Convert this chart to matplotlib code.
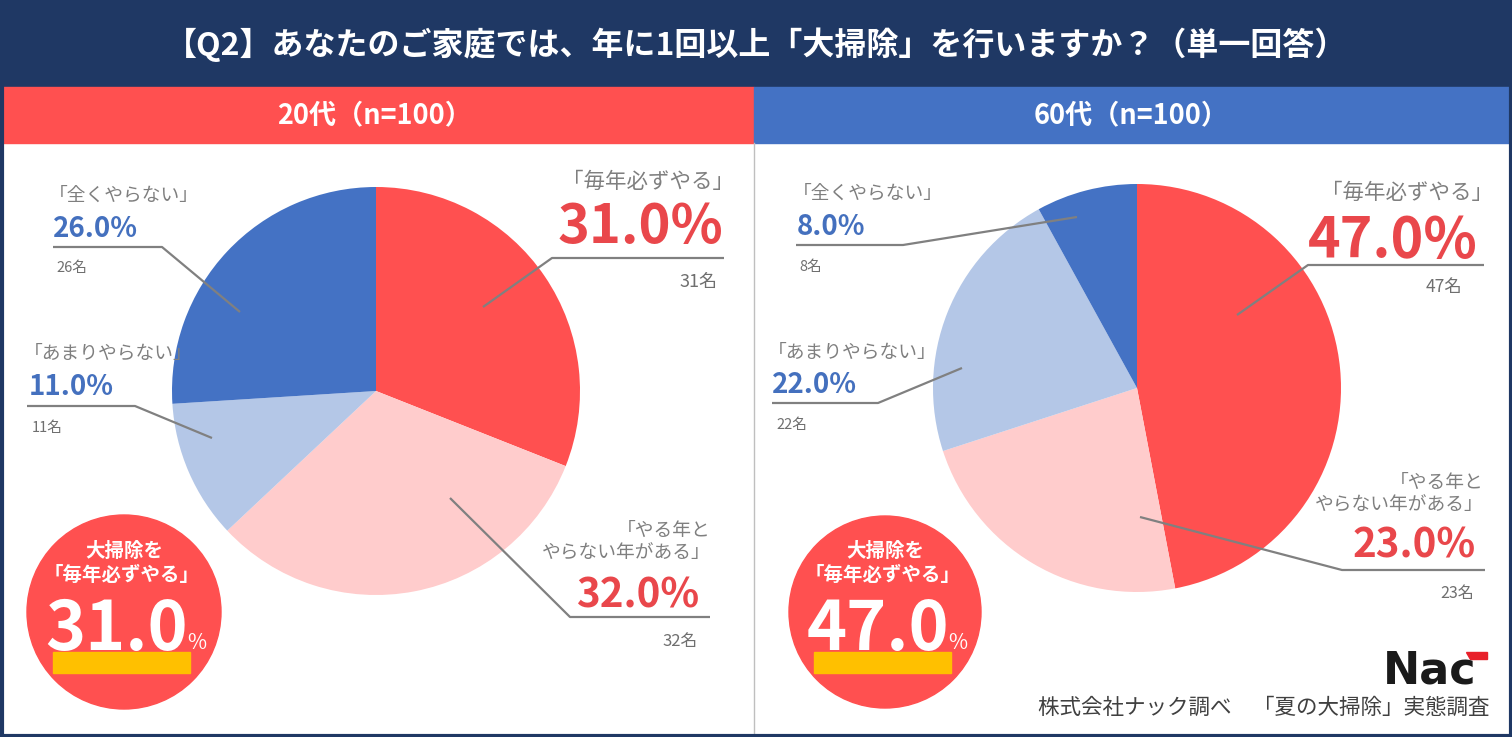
import matplotlib.pyplot as plt
from matplotlib.patches import Rectangle, Circle, Polygon

plt.rcParams['font.family'] = ['Noto Sans CJK JP', 'DejaVu Sans']

W, H = 1512, 737

# データ
title = '【Q2】あなたのご家庭では、年に1回以上「大掃除」を行いますか？（単一回答）'
groups = ['20代（n=100）', '60代（n=100）']
answers = ['「毎年必ずやる」', '「やる年と\nやらない年がある」', '「あまりやらない」', '「全くやらない」']
pct_20s = [31.0, 32.0, 11.0, 26.0]
pct_60s = [47.0, 23.0, 22.0, 8.0]
count_20s = [31, 32, 11, 26]
count_60s = [47, 23, 22, 8]
badge_lines = ['大掃除を', '「毎年必ずやる」']
footer = '株式会社ナック調べ　「夏の大掃除」実態調査'

slice_colors = ['#FF5050', '#FFCCCC', '#B4C7E7', '#4472C4']
navy = '#1F3864'
red_txt = '#E9474B'
blue_txt = '#4470BE'
grey_txt = '#7F7F7F'
line_col = '#808080'

fig = plt.figure(figsize=(W / 100, H / 100), dpi=100)
ax = fig.add_axes([0, 0, 1, 1])

# 背景・ヘッダー
ax.add_patch(Rectangle((0, 0), W, 87, color=navy, zorder=0))
ax.add_patch(Rectangle((0, 87), 754, 56, color='#FF5050', zorder=0))
ax.add_patch(Rectangle((754, 87), W - 754, 56, color='#4472C4', zorder=0))
ax.plot([754, 754], [143, H], color='#BFBFBF', lw=1, zorder=1)
ax.text(W / 2, 45, title, color='white', fontsize=23, fontweight='bold', ha='center', va='center')
ax.text(375, 115, groups[0], color='white', fontsize=19.5, fontweight='bold', ha='center', va='center')
ax.text(1131, 115, groups[1], color='white', fontsize=19.5, fontweight='bold', ha='center', va='center')

# 円グラフごとのレイアウト
panels = [
    dict(pct=pct_20s, n=count_20s, cx=376, cy=391, r=204, badge=(124, 612, 97),
         labels=[
             # 見出しx, ha, 見出しy, 見出しサイズ, %x, %基線y, %サイズ, 人数x, 人数y, 人数サイズ, 引出線
             (734, 'right', 182, 15.5, 723, 243, 39, 718, 282, 13, [(483, 307), (552, 258), (724, 258)]),
             (711, 'right', 542, 13.5, 699, 607, 29, 698, 641, 12, [(450, 498), (570, 617), (710, 617)]),
             (24, 'left', 353, 13.5, 29, 395, 20, 32, 428, 10.5, [(212, 438), (135, 406), (27, 406)]),
             (49, 'left', 195, 13.5, 53, 237, 20, 56, 268, 10.5, [(240, 312), (162, 247), (53, 247)]),
         ]),
    dict(pct=pct_60s, n=count_60s, cx=1137, cy=388, r=204, badge=(885, 612, 96),
         labels=[
             (1493, 'right', 193, 15.5, 1478, 257, 40, 1462, 287, 12.5, [(1237, 315), (1308, 265), (1484, 265)]),
             (1484, 'right', 494, 13.5, 1476, 557, 29, 1474, 593, 11.5, [(1140, 517), (1342, 570), (1485, 570)]),
             (768, 'left', 352, 13.5, 772, 393, 20, 776, 425, 10.5, [(962, 368), (878, 403), (772, 403)]),
             (793, 'left', 193, 13.5, 797, 235, 20, 799, 267, 10.5, [(1077, 217), (903, 245), (796, 245)]),
         ]),
]

for p in panels:
    ax.pie(p['pct'], colors=slice_colors, startangle=270, counterclock=True,
           center=(p['cx'], p['cy']), radius=p['r'], frame=True,
           wedgeprops=dict(linewidth=0))
    for i, lab in enumerate(p['labels']):
        x, ha, hy, hs, px, py, ps, nx, ny, ns, pts = lab
        big = i < 2
        ax.text(x, hy, answers[i], color=grey_txt, fontsize=hs, ha=ha, va='center',
                multialignment='right' if ha == 'right' else 'left', linespacing=1.15)
        ax.text(px, py, f'{p["pct"][i]:.1f}%',
                color=red_txt if big else blue_txt, fontsize=ps, fontweight='bold',
                ha=ha, va='baseline')
        ax.text(nx, ny, f'{p["n"][i]}名', color='#6F6F6F', fontsize=ns, ha=ha, va='center')
        ax.plot([q[0] for q in pts], [q[1] for q in pts], color=line_col, lw=1.6,
                solid_capstyle='butt', zorder=3)

    # バッジ
    bx, by, br = p['badge']
    ax.add_patch(Circle((bx, by), br, color='#FF5050', zorder=4))
    ax.text(bx, by - 61, badge_lines[0], color='white', fontsize=14, fontweight='bold',
            ha='center', va='center', zorder=5)
    ax.text(bx - 2, by - 37, badge_lines[1], color='white', fontsize=14, fontweight='bold',
            ha='center', va='center', zorder=5)
    ax.add_patch(Rectangle((bx - 71, by + 40), 137, 21, color='#FFC000', zorder=5))
    ax.text(bx - 7, by + 38, f'{p["pct"][0]:.1f}', color='white', fontsize=49,
            fontweight='bold', ha='center', va='baseline', zorder=6)
    ax.text(bx + 63, by + 37, '%', color='white', fontsize=15, ha='left',
            va='baseline', zorder=6)

# ロゴとクレジット
ax.text(1383, 684, 'Nac', color='#1A1A1A', fontsize=32, fontweight='bold',
        family='DejaVu Sans', ha='left', va='baseline')
ax.add_patch(Polygon([(1466, 652), (1487, 652), (1487, 659), (1470, 659)], color='#E8202A'))
ax.text(1490, 708, footer, color='#404040', fontsize=15.5, ha='right', va='center')

# 外枠
ax.add_patch(Rectangle((1.5, 1.5), W - 3, H - 3, fill=False, edgecolor=navy, lw=3, zorder=10))

ax.set_xlim(0, W)
ax.set_ylim(H, 0)
ax.set_aspect('auto')
ax.axis('off')

fig.savefig('out.png', dpi=100, facecolor='white')
